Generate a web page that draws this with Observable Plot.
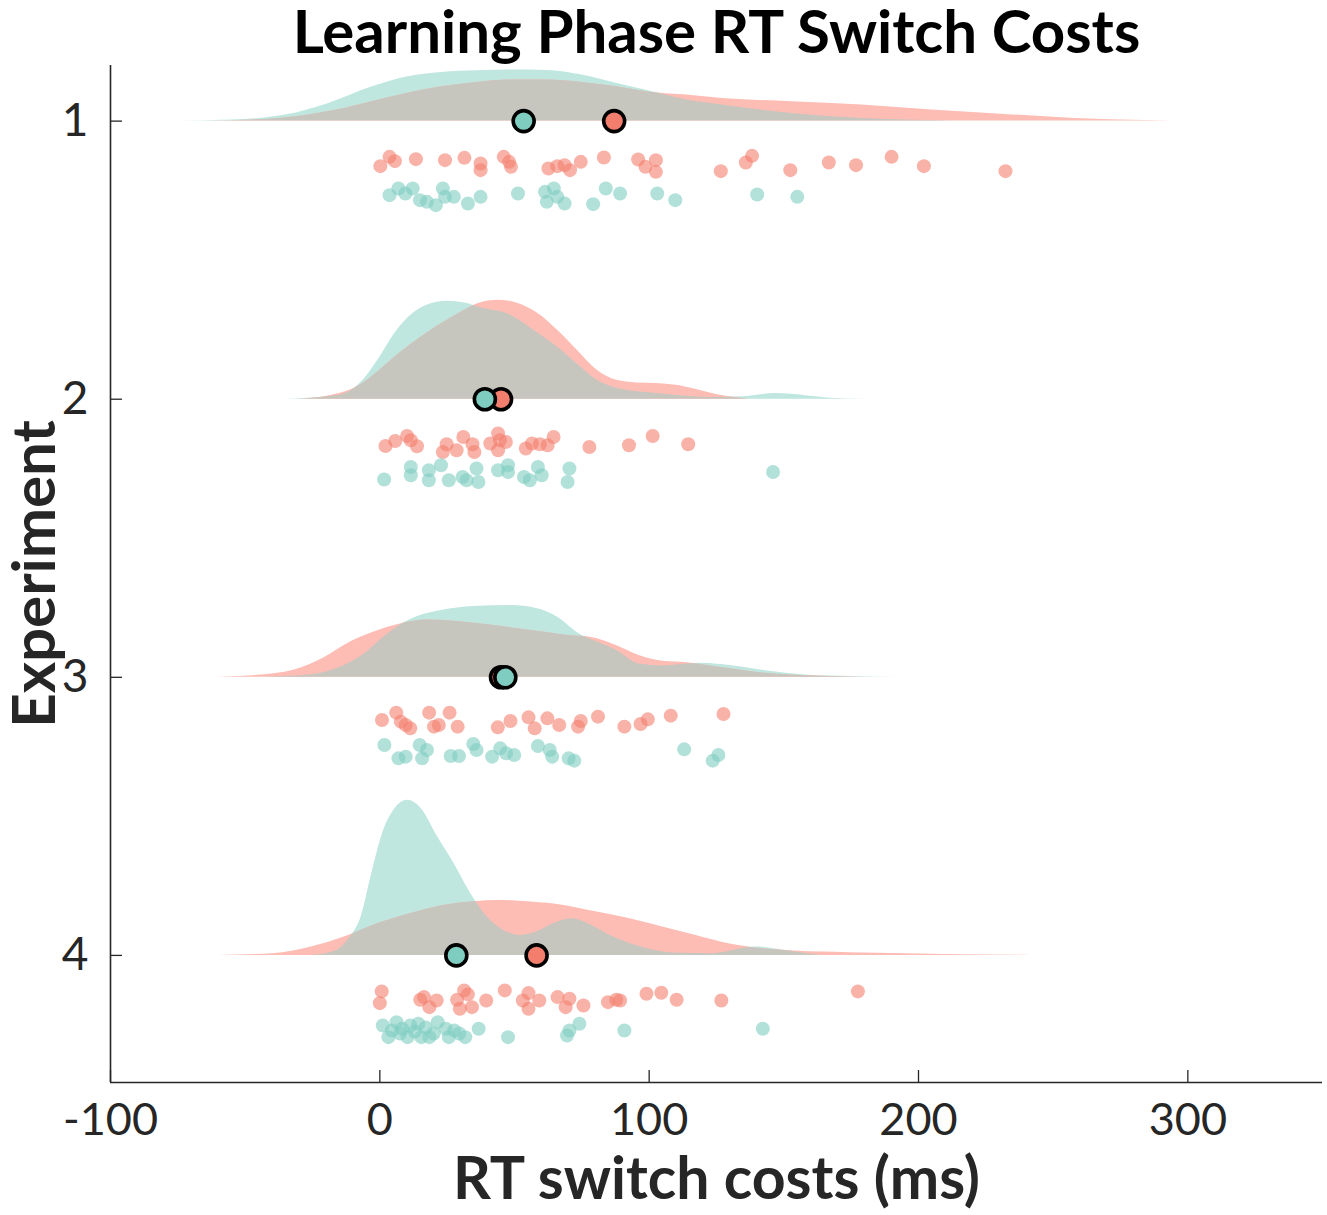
<!DOCTYPE html>
<html>
<head>
<meta charset="utf-8">
<script src="https://cdn.jsdelivr.net/npm/d3@7"></script>
<script src="https://cdn.jsdelivr.net/npm/@observablehq/plot@0.6"></script>
<style>
  html, body { margin: 0; padding: 0; background: #fff; }
</style>
</head>
<body>
<div id="chart"></div>
<script>
// ---------------- DATA ----------------
const experiments = [1, 2, 3, 4];
const xTicks = [-100, 0, 100, 200, 300];
const xDomain = [-100, 350];
const yDomain = [0.8, 4.457];

// Kernel density curves: [RT switch cost (ms), density (arbitrary units)]
const tealDensity1 = [[-76,0],[-55,1],[-35,6],[-19,17.7],[-3,34],[10,44],[23,48.7],[36,50.3],[49,51],[62,50.7],[75,46],[88,37.7],[98.5,31],[114,21],[127,16],[153,7.7],[179,2.7],[205,0.7],[222,0]];
const redDensity1  = [[-66,0],[-42,1.7],[-16,11],[-3,19.3],[10,27.7],[23,34.3],[36,38.7],[49,41],[62,41],[75,38.7],[88,34.3],[101,28.7],[114,26],[127,22.7],[153,19.3],[179,16],[205,11],[232,6.7],[258,2.7],[284,0.7],[305,0]];
const tealDensity2 = [[-35,0],[-15,4],[-7.4,15.7],[0,42],[5.6,66],[11.5,84],[17.5,94],[24.9,98],[32,96],[38,91],[46.8,86],[58.7,66],[66,52],[73,36],[80.7,19],[88,11],[102.7,5.7],[125,1.7],[135,2.5],[147,5.7],[169,0.7],[181,0]];
const redDensity2  = [[-29.5,0],[-15,5.7],[-7.4,14],[0,29],[7.2,45.7],[14.6,60.7],[21.9,74],[29.3,85.7],[36.6,95.7],[43.9,99],[51.3,95.7],[58.7,85.7],[66,69],[73.3,49],[80.7,29],[88,19],[95.4,16.3],[102.7,15.7],[110,14],[117.5,9.7],[124.9,4.7],[132,1.7],[137,0]];
const tealDensity3 = [[-47.5,0],[-26.3,2.3],[-14,10.7],[-5.4,24],[1.7,40.7],[8.7,54],[14,60.7],[22.8,66.7],[35,70.7],[49,71.7],[57.8,69],[66.6,59],[73.6,44],[78.9,37.3],[87.6,27.3],[96.4,13.3],[105,11.3],[119,14],[131.5,11.3],[145.5,5.7],[157.8,2.3],[175,0.7],[193,0]];
const redDensity3  = [[-65,0],[-44,2.3],[-31.7,7.3],[-21,19],[-10.6,35.7],[0,47.3],[8.7,54],[17.5,57.3],[26.3,56.3],[35,54],[43.8,51.3],[52.6,48],[61.3,45],[70,41.7],[78,40],[87.6,32],[96,22],[105,16],[114,14.5],[124,10.7],[143,4],[161,1.3],[180,0]];
const tealDensity4 = [[-25,0],[-16,5],[-11,18.3],[-7,38],[-3,81.7],[1,121.7],[5.2,145],[10.3,155],[15.4,146.7],[21.5,118.3],[27.6,91.7],[33.8,61.7],[39.9,38.3],[46,25],[52.1,20],[58.2,23.3],[64.4,31.7],[71.5,36.7],[78.6,30],[86.8,18.3],[97,8.3],[109,2.3],[123.4,1.7],[139.8,8.3],[154,3.3],[164,0]];
const redDensity4  = [[-60,0],[-39.7,1.7],[-25.4,8.3],[-13.2,18.3],[-0.9,31.7],[11.3,41.7],[23.5,50],[35.7,54],[43.9,55],[56.2,53.3],[68.4,50],[80.7,43.3],[92.9,36.7],[105,28.3],[117.4,20],[129.6,11.7],[141.8,6.7],[154,4.3],[174.4,2.7],[194.8,1.7],[215,0.7],[241.7,0]];

// Individual participants: [RT switch cost (ms), vertical jitter]
const redDots1 = [[0.2,45],[3.6,35.7],[5.6,40],[13.4,38],[24.2,39],[31.4,36.7],[37.4,42.3],[37.4,49],[46,35.7],[48,40.7],[48.7,45.7],[62.6,47.3],[65.9,45],[68.6,44],[70.6,49],[74.6,40.7],[83.2,36.3],[95.9,38.3],[98.6,45.7],[102.5,39],[102.5,50.7],[126.6,50],[135.9,41.3],[138.2,34.7],[152.4,49],[166.7,41.3],[176.8,44],[190,35.7],[202,45],[232.3,50]];
const tealDots1 = [[3.6,74],[6.9,67.3],[9.5,72.3],[12.2,67.3],[14.9,79],[17.5,80.7],[20.8,84],[23.4,67.3],[24.2,75.7],[27.5,75.7],[32.7,82.3],[37.4,75.7],[51.3,72.3],[61.3,70.7],[62,80.7],[64.6,67.3],[65.9,75.7],[68.6,82.3],[79.2,83],[83.9,67.3],[89.2,72.3],[103,72.3],[109.7,79],[140.1,73.3],[155,75.7]];
const redDots2 = [[2.1,46.7],[5.7,41.7],[10.1,36.7],[11.5,41],[13.8,47],[23.4,52.7],[24.8,45],[28.5,51],[31,37.7],[34.4,45],[35.1,52.7],[41,44.3],[43.9,34.3],[44.6,41],[43.9,51],[46.8,42.7],[54.2,49.3],[56.5,44.3],[59.4,45],[62.3,46],[64.5,37.7],[77.8,47.7],[92.5,46],[101.3,36.7],[114.5,45]];
const tealDots2 = [[1.6,80.3],[11.5,67.7],[11.5,76],[18.2,71],[18.2,81],[22.7,66],[25.6,81],[30.7,77.7],[32.2,81],[35.9,69.3],[36.6,82.7],[43.9,71],[47.6,66],[47.6,72.7],[53.5,77.7],[55.7,81],[58.7,67.7],[60.1,76],[70.4,69.3],[69.7,82.7],[146,72.7]];
const redDots3 = [[0.8,42.7],[6.1,35.3],[7.8,44.3],[9.6,47.7],[11.3,51],[18.3,35.3],[20.1,49.3],[21.9,47.7],[25.9,35.3],[28.9,49.3],[43.8,50],[48.5,43.7],[55.2,40],[57.5,51],[62.2,41],[66.6,47.7],[73.6,49.3],[74.6,43.7],[81,39.3],[90.8,49.3],[96.8,46.7],[99.5,42],[108,38.3],[127.6,36.7]];
const tealDots3 = [[1.7,67.7],[6.9,81],[9.6,79.3],[14.8,67.7],[15.7,81],[17.5,72.7],[26.3,78.7],[29.4,78.7],[34.7,66.7],[35.9,72.7],[41.7,79.3],[44.7,71],[46.9,76],[49.9,77.7],[58.7,68.7],[63.1,72.7],[64,79.3],[70.1,81],[72.2,83.3],[113,72],[123.6,83.3],[125.7,77.7]];
const redDots4 = [[0.7,36],[0,47.7],[15,44.3],[16.4,41.7],[18.4,51.7],[21.1,45],[28.7,44.3],[29.7,53.3],[31.3,35],[32.7,39],[34.2,51.7],[39.5,45],[46.4,35],[53.1,45],[55.2,37.7],[55.2,53.3],[59.2,45],[66,41.7],[69,51.7],[70.4,43.3],[75.6,50],[84.7,46.7],[87.8,44.3],[89.2,45],[99,38.3],[104.5,37.3],[110.2,44.3],[126.8,45],[177.5,36]];
const tealDots4 = [[1.1,70],[3.2,81.7],[4.5,75],[6.2,66.7],[7.5,78],[8.3,73.3],[10.3,81.7],[11.3,70],[13,76],[14.3,68.3],[15.4,81.7],[17,72],[18.4,81.7],[20,78],[21.5,66.7],[24.5,73.3],[25.6,81.7],[27.6,75],[29.5,78],[31.7,81.7],[36.7,73.3],[47.6,81.7],[69.5,80],[70.4,75],[74.1,68.3],[90.8,75],[142.2,73.3]];

// Group means
const tealMeans = [53.4, 39.0, 46.6, 28.4];
const redMeans  = [87.0, 45.0, 45.0, 58.2];

// ---------------- STYLE ----------------
const tealArea = "#bfe6df", redArea = "#fdbcb4", overlapArea = "#c6c6bf";
const tealPoint = "#7fcdc1", redPoint = "#f47e6e";
const ink = "#262626";
const densityScale = 1 / 278;   // density units -> experiment rows
const jitterScale = 1 / 278;    // jitter units -> experiment rows
const fmt = d => String(d);

// ---------------- BUILD TABLES ----------------
const tealDens = [tealDensity1, tealDensity2, tealDensity3, tealDensity4];
const redDens = [redDensity1, redDensity2, redDensity3, redDensity4];
const tealDots = [tealDots1, tealDots2, tealDots3, tealDots4];
const redDots = [redDots1, redDots2, redDots3, redDots4];

const densRows = (list) => list.flatMap((arr, i) => arr.map(([x, h]) => ({exp: experiments[i], x, h})));
const dotRows = (list) => list.flatMap((arr, i) => arr.map(([x, j]) => ({exp: experiments[i], x, j})));
const tealD = densRows(tealDens), redD = densRows(redDens);
const tealP = dotRows(tealDots), redP = dotRows(redDots);
const tealM = tealMeans.map((x, i) => ({exp: experiments[i], x}));
const redM = redMeans.map((x, i) => ({exp: experiments[i], x}));

const chart = Plot.plot({
  width: 1327,
  height: 1215,
  marginTop: 65,
  marginLeft: 110,
  marginRight: 5,
  marginBottom: 133,
  style: {fontFamily: "Lato, 'Open Sans', sans-serif", color: ink, background: "#fff", overflow: "visible"},
  x: {domain: xDomain},
  y: {domain: yDomain, reverse: true},
  marks: [
    Plot.areaY(tealD, {x: "x", y1: "exp", y2: d => d.exp - d.h * densityScale, z: "exp", fill: tealArea, curve: "monotone-x"}),
    Plot.areaY(redD, {x: "x", y1: "exp", y2: d => d.exp - d.h * densityScale, z: "exp", fill: redArea, curve: "monotone-x"}),
    Plot.dot(redP, {x: "x", y: d => d.exp + d.j * jitterScale, r: 7, fill: redPoint, fillOpacity: 0.6, stroke: "none"}),
    Plot.dot(tealP, {x: "x", y: d => d.exp + d.j * jitterScale, r: 7, fill: tealPoint, fillOpacity: 0.6, stroke: "none"}),
    Plot.dot(redM, {x: "x", y: "exp", r: 10.5, fill: redPoint, stroke: "#000", strokeWidth: 3.6}),
    Plot.dot(tealM, {x: "x", y: "exp", r: 10.5, fill: tealPoint, stroke: "#000", strokeWidth: 3.6}),
    Plot.ruleX([xDomain[0]], {stroke: ink, strokeWidth: 1.6}),
    Plot.ruleY([yDomain[1]], {stroke: ink, strokeWidth: 1.6}),
    Plot.axisX({ticks: xTicks, tickSize: -12, tickFormat: () => "", stroke: ink, strokeWidth: 1.3, label: null}),
    Plot.axisX({ticks: xTicks, tickSize: 0, tickPadding: 21, fontSize: 45, fill: ink, tickFormat: fmt, label: null}),
    Plot.axisY({ticks: experiments, tickSize: -12, tickFormat: () => "", stroke: ink, strokeWidth: 1.3, label: null}),
    Plot.axisY({ticks: experiments, tickSize: 0, tickPadding: 22, fontSize: 46, fill: ink, tickFormat: fmt, label: null}),
    Plot.text(["Learning Phase RT Switch Costs"], {frameAnchor: "top", dy: -32, fontSize: 60, fontWeight: "bold", fill: "#000", lineAnchor: "middle"}),
    Plot.text(["RT switch costs (ms)"], {frameAnchor: "bottom", dy: 98, fontSize: 59, fontWeight: "bold", fill: ink, lineAnchor: "middle"}),
    Plot.text(["Experiment"], {frameAnchor: "left", dx: -75, rotate: -90, fontSize: 60, fontWeight: "bold", fill: ink, lineAnchor: "middle", textAnchor: "middle"})
  ]
});

// Overlap of the two densities drawn in grey: teal area clipped to the red area
(function () {
  const ns = "http://www.w3.org/2000/svg";
  const areas = chart.querySelectorAll('g[aria-label="area"]');
  if (areas.length < 2) return;
  const tealG = areas[0], redG = areas[1];
  const defs = document.createElementNS(ns, "defs");
  const clip = document.createElementNS(ns, "clipPath");
  clip.setAttribute("id", "red-density-clip");
  redG.querySelectorAll("path").forEach(p => {
    const c = p.cloneNode(false);
    c.removeAttribute("fill");
    clip.appendChild(c);
  });
  defs.appendChild(clip);
  chart.insertBefore(defs, chart.firstChild);
  const overlap = tealG.cloneNode(true);
  overlap.setAttribute("aria-label", "area overlap");
  overlap.setAttribute("fill", overlapArea);
  overlap.setAttribute("clip-path", "url(#red-density-clip)");
  redG.after(overlap);
})();

document.getElementById("chart").appendChild(chart);
</script>
</body>
</html>
